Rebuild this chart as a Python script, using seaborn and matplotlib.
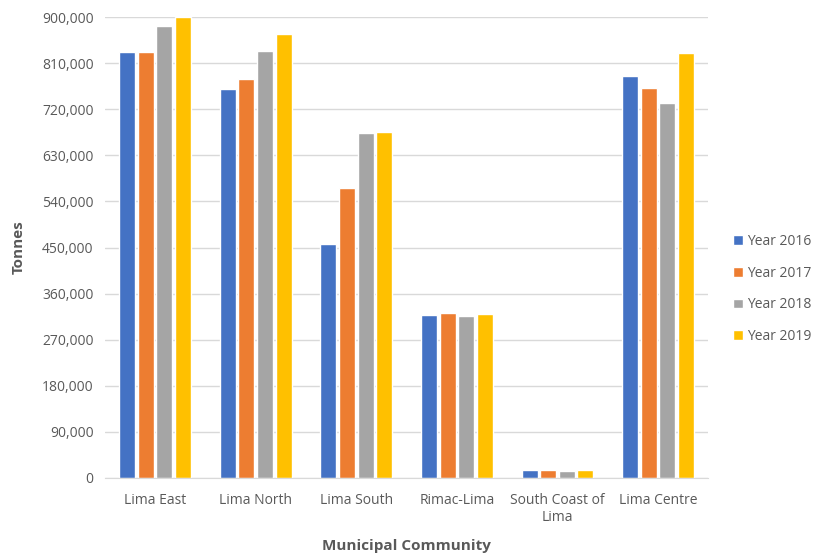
import numpy as np
import pandas as pd
import seaborn as sns
import matplotlib.pyplot as plt
from matplotlib.ticker import FuncFormatter, MultipleLocator

communities = ['Lima East', 'Lima North', 'Lima South', 'Rimac-Lima',
               'South Coast of\nLima', 'Lima Centre']
years = ['Year 2016', 'Year 2017', 'Year 2018', 'Year 2019']

# tonnes per community
year_2016 = [831500, 759000, 457000, 317500, 14900, 784500]
year_2017 = [831500, 778500, 566000, 322000, 14900, 762500]
year_2018 = [882500, 833500, 673000, 315500, 12900, 733000]
year_2019 = [900000, 867000, 676500, 320500, 16200, 830000]

colors = ['#4472C4', '#ED7D31', '#A5A5A5', '#FFC000']

df = pd.DataFrame({
    'community': communities * 4,
    'year': np.repeat(years, len(communities)),
    'tonnes': year_2016 + year_2017 + year_2018 + year_2019,
})

sns.set_style('white')
plt.rcParams['font.family'] = ['Open Sans', 'DejaVu Sans']

fig, ax = plt.subplots(figsize=(8.18, 5.55), dpi=100)
fig.subplots_adjust(left=0.128, right=0.866, top=0.969, bottom=0.139)

sns.barplot(data=df, x='community', y='tonnes', hue='year', palette=colors,
            width=0.74, gap=0.14, saturation=1, ax=ax, errorbar=None)

ax.set_ylim(0, 900000)
ax.yaxis.set_major_locator(MultipleLocator(90000))
ax.yaxis.set_major_formatter(FuncFormatter(lambda v, p: f'{int(v):,}'))
ax.grid(axis='y', color='#D9D9D9', linewidth=1)
ax.set_axisbelow(True)
for s in ['top', 'right', 'left']:
    ax.spines[s].set_visible(False)
ax.spines['bottom'].set_color('#D9D9D9')
ax.tick_params(axis='both', length=0, labelsize=10, colors='#595959')
ax.tick_params(axis='x', pad=11)
ax.tick_params(axis='y', pad=8)

ax.set_xlabel('Municipal Community', fontsize=11, fontweight='bold',
              color='#595959', labelpad=10)
ax.set_ylabel('Tonnes', fontsize=11, fontweight='bold', color='#595959',
              labelpad=12)

leg = ax.legend(loc='center left', bbox_to_anchor=(1.02, 0.41), frameon=False,
                fontsize=10, handlelength=0.7, handleheight=0.7,
                handletextpad=0.3, labelspacing=1.2)
for t in leg.get_texts():
    t.set_color('#595959')

fig.savefig('out.png', dpi=100)
